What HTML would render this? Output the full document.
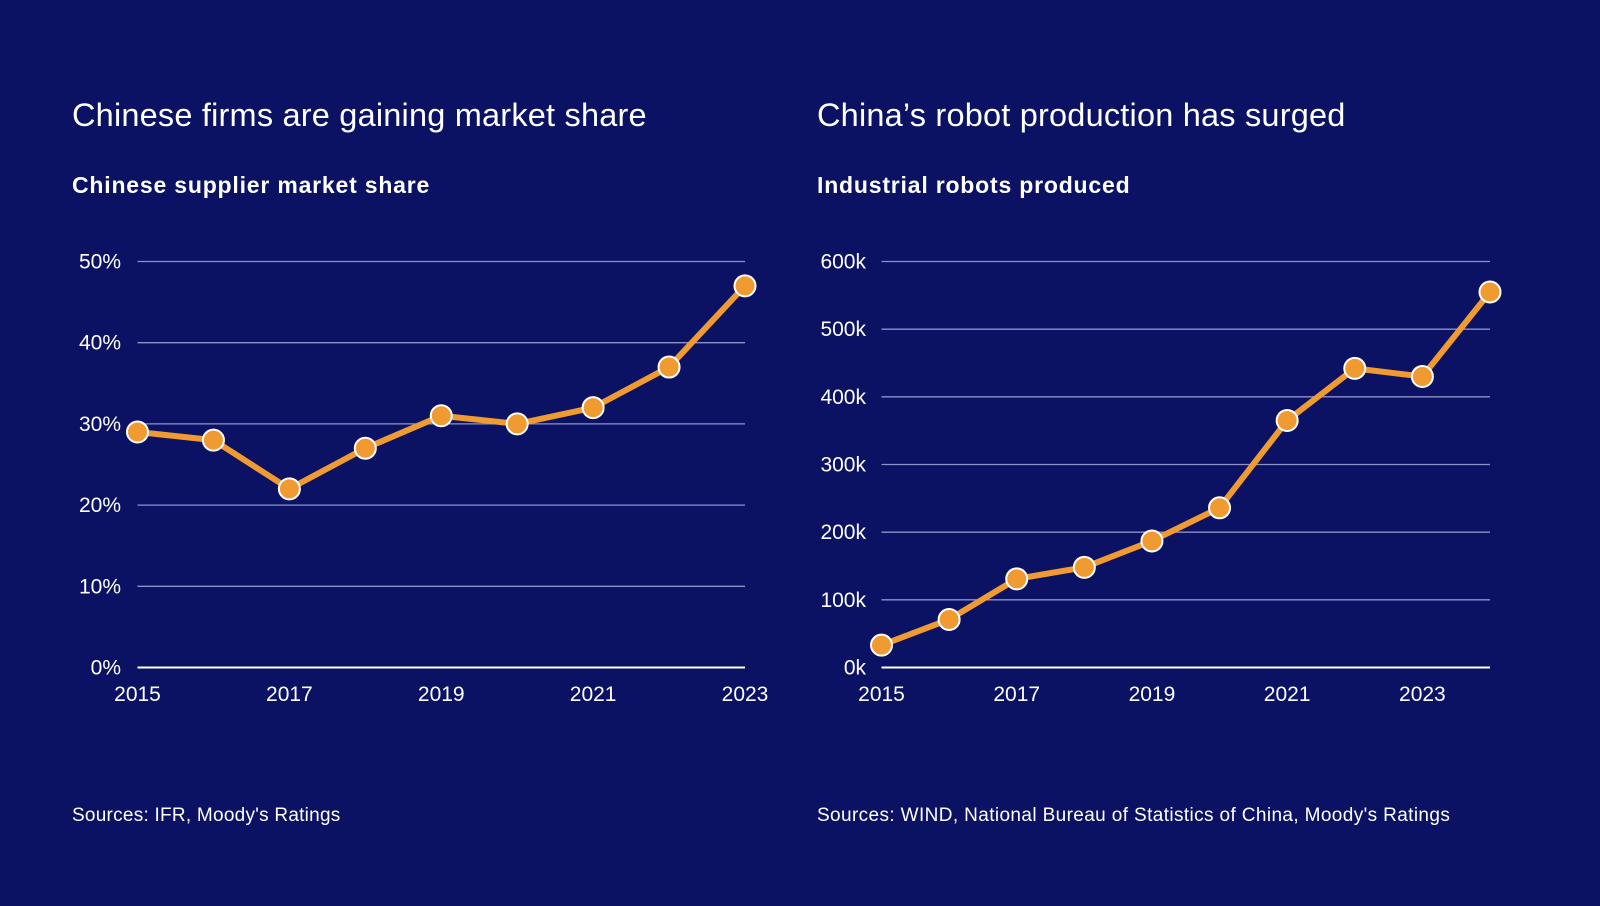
<!DOCTYPE html>
<html><head><meta charset="utf-8"><style>
html,body{margin:0;padding:0;background:#0b1263;}
body{width:1600px;height:901px;overflow:hidden;font-family:"Liberation Sans",sans-serif;}
svg text{font-family:"Liberation Sans",sans-serif;fill:#fff;}
</style></head><body>
<svg id="chart" width="1600" height="901" viewBox="0 0 1600 901">
<rect width="1600" height="901" fill="#0b1263"/>
<text x="72" y="126" font-size="32.5" letter-spacing="0.2">Chinese firms are gaining market share</text>
<text x="72" y="193" font-size="23" font-weight="bold" letter-spacing="0.8">Chinese supplier market share</text>
<text x="72" y="821" font-size="19" letter-spacing="0.25">Sources: IFR, Moody's Ratings</text>
<text x="817" y="126" font-size="32.5" letter-spacing="0.2">China’s robot production has surged</text>
<text x="817" y="193" font-size="23" font-weight="bold" letter-spacing="0.8">Industrial robots produced</text>
<text x="817" y="821" font-size="19" letter-spacing="0.38">Sources: WIND, National Bureau of Statistics of China, Moody's Ratings</text>
<g id="left"></g><g id="right"></g>
</svg>
<script>
const leftYears=[2015,2016,2017,2018,2019,2020,2021,2022,2023];
const leftValues=[29,28,22,27,31,30,32,37,47];
const leftYTicks=[0,10,20,30,40,50];
const leftXLabels=[2015,2017,2019,2021,2023];
const rightYears=[2015,2016,2017,2018,2019,2020,2021,2022,2023,2024];
const rightValues=[33,71,131,148,187,236,365,442,430,555];
const rightYTicks=[0,100,200,300,400,500,600];
const rightXLabels=[2015,2017,2019,2021,2023];
const NS='http://www.w3.org/2000/svg';
function mk(tag,attrs,parent){const e=document.createElementNS(NS,tag);for(const k in attrs)e.setAttribute(k,attrs[k]);parent.appendChild(e);return e;}
function draw(g,prefix,years,vals,yt,xl,x0,x1,xMin,xMax,yMax,fmt,labelRight){
  const y0=667.5,yTop=261.5;
  const sx=v=>x0+(v-xMin)/(xMax-xMin)*(x1-x0);
  const sy=v=>y0-v/yMax*(y0-yTop);
  yt.forEach(t=>{
    const l=mk('line',{x1:x0,x2:x1,y1:sy(t),y2:sy(t),stroke:t===0?'#ffffff':'#8d92c8','stroke-width':t===0?2:1.3},g);
    
    
    const tx=mk('text',{x:labelRight,y:sy(t)+7,'font-size':21,'text-anchor':'end'},g);
    tx.textContent=fmt(t);
    
    
  });
  xl.forEach(y=>{
    const tx=mk('text',{x:sx(y),y:701,'font-size':21,'text-anchor':'middle'},g);
    tx.textContent=y;
    
    
  });
  const pts=years.map((y,i)=>sx(y)+','+sy(vals[i])).join(' ');
  const pl=mk('polyline',{points:pts,fill:'none',stroke:'#f09a32','stroke-width':6,'stroke-linejoin':'round'},g);
  
  
  years.forEach((y,i)=>{
    const c=mk('circle',{cx:sx(y),cy:sy(vals[i]),r:10.5,fill:'#f09a32',stroke:'#ffffff','stroke-width':2},g);
    
    
  });
}
draw(document.getElementById('left'),'left',leftYears,leftValues,leftYTicks,leftXLabels,137.5,745,2015,2023,50,t=>t+'%',121);
draw(document.getElementById('right'),'right',rightYears,rightValues,rightYTicks,rightXLabels,881.5,1490,2015,2024,600,t=>t+'k',866);
</script>
</body></html>
